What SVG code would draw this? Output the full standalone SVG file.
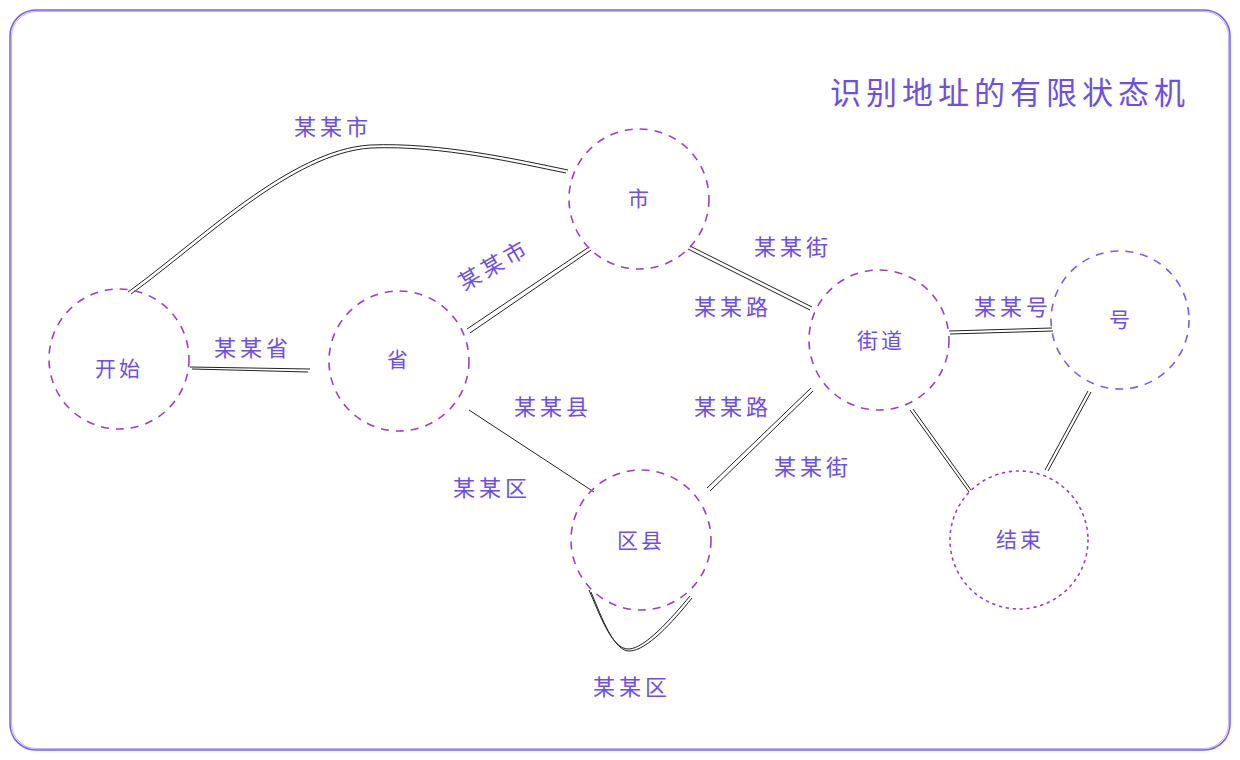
<svg xmlns="http://www.w3.org/2000/svg" width="1240" height="760" viewBox="0 0 1240 760">
<style>
text{font-family:"Noto Sans CJK SC","Noto Sans",sans-serif;fill:#6b4ef0;text-anchor:middle;dominant-baseline:central}
.lbl{font-size:22px;letter-spacing:4px}
.nt{font-size:21px;letter-spacing:3px}
.node{fill:none;stroke:#9b3fc4;stroke-width:1.6;stroke-dasharray:8 7}
.edge{fill:none;stroke:#222;stroke-width:1}
</style>
<rect x="10" y="10" width="1220" height="740" rx="26" fill="#fff" stroke="#7a5af8" stroke-width="1.5"/>
<rect x="11.5" y="11.5" width="1217" height="737" rx="25" fill="none" stroke="#7a5af8" stroke-width="0.8" opacity="0.6"/>
<text x="1010" y="90" style="font-size:31px;letter-spacing:5px">识别地址的有限状态机</text>
<g id="connectors">
<path class="edge" d="M128 292 C200 240 290 150 370 145 C440 142 520 160 568 170"/>
<path class="edge" d="M131 294 C203 242 292 153 371 148 C441 145 521 164 566 173"/>
<path class="edge" d="M190 367 L310 369"/><path class="edge" d="M192 369 L308 372"/>
<path class="edge" d="M467 329 L589 247"/><path class="edge" d="M470 333 L591 250"/>
<path class="edge" d="M469 410 L594 492"/>
<path class="edge" d="M690 246 L812 307"/><path class="edge" d="M688 249 L810 310"/>
<path class="edge" d="M707 488 L811 388"/><path class="edge" d="M710 491 L813 391"/>
<path class="edge" d="M949 331 L1052 328"/><path class="edge" d="M950 334 L1053 331"/>
<path class="edge" d="M910 410 L969 492"/><path class="edge" d="M913 409 L971 490"/>
<path class="edge" d="M1088 391 L1045 470"/><path class="edge" d="M1091 392 L1048 471"/>
<path class="edge" d="M589 590 C600 615 612 650 629 649 C645 648 670 620 690 596"/>
<path class="edge" d="M591 592 C602 618 614 652 630 651 C647 650 672 623 692 598"/>
</g>
<g id="labels">
<text class="lbl" x="333" y="125">某某市</text>
<text class="lbl" x="253" y="346">某某省</text>
<text class="lbl" x="493" y="263" transform="rotate(-30 493 263)">某某市</text>
<text class="lbl" x="553" y="405">某某县</text>
<text class="lbl" x="492" y="486">某某区</text>
<text class="lbl" x="793" y="245">某某街</text>
<text class="lbl" x="733" y="305">某某路</text>
<text class="lbl" x="733" y="405">某某路</text>
<text class="lbl" x="813" y="465">某某街</text>
<text class="lbl" x="1013" y="305">某某号</text>
<text class="lbl" x="632" y="685">某某区</text>
</g>
<g id="node-start"><circle class="node" cx="119" cy="359" r="70"/><text class="nt" x="119" y="367">开始</text></g>
<g id="node-province"><circle class="node" cx="399" cy="361" r="70"/><text class="nt" x="399" y="358">省</text></g>
<g id="node-city"><circle class="node" cx="639" cy="199" r="70"/><text class="nt" x="640" y="197">市</text></g>
<g id="node-district"><circle class="node" cx="641" cy="540" r="70"/><text class="nt" x="641" y="539">区县</text></g>
<g id="node-street"><circle class="node" cx="879" cy="340" r="70"/><text class="nt" x="881" y="339">街道</text></g>
<g id="node-number"><circle class="node" cx="1120" cy="320" r="69" style="stroke:#7a5af8"/><text class="nt" x="1121" y="318">号</text></g>
<g id="node-end"><circle class="node" cx="1019" cy="540" r="69" style="stroke-dasharray:2 5;stroke-linecap:round"/><text class="nt" x="1020" y="538">结束</text></g>
</svg>
